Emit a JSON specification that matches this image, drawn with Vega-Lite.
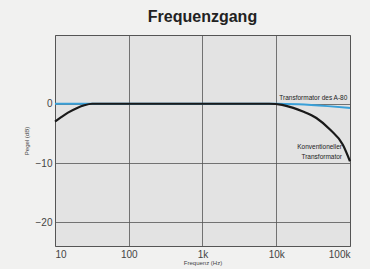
{
  "$schema": "https://vega.github.io/schema/vega-lite/v6.json",
  "autosize": "none",
  "width": 295,
  "height": 211,
  "padding": {"left": 55, "top": 35, "right": 20, "bottom": 23},
  "background": "#f1f1f0",
  "title": {"text": "Frequenzgang", "font": "Liberation Sans", "fontSize": 16, "fontWeight": "bold", "color": "#222", "anchor": "middle", "offset": 10},
  "config": {
    "view": {"fill": "#e3e3e3", "stroke": "#555", "strokeWidth": 1},
    "axis": {"labelFont": "Liberation Sans", "labelColor": "#444", "titleFont": "Liberation Sans", "titleColor": "#444", "gridColor": "#555", "gridOpacity": 1, "gridWidth": 0.8, "domain": false, "ticks": false}
  },
  "datasets": {
    "a80": [
      {"f": 10, "db": 0},
      {"f": 100, "db": 0},
      {"f": 1000, "db": 0},
      {"f": 10000, "db": 0},
      {"f": 20000, "db": -0.1},
      {"f": 50000, "db": -0.4},
      {"f": 100000, "db": -0.7}
    ],
    "konv": [
      {"f": 10, "db": -3.0},
      {"f": 12, "db": -2.3},
      {"f": 15, "db": -1.5},
      {"f": 20, "db": -0.7},
      {"f": 25, "db": -0.25},
      {"f": 32, "db": 0},
      {"f": 100, "db": 0},
      {"f": 1000, "db": 0},
      {"f": 8000, "db": 0},
      {"f": 12000, "db": -0.2},
      {"f": 17000, "db": -0.7},
      {"f": 23000, "db": -1.3},
      {"f": 35000, "db": -2.4},
      {"f": 54000, "db": -4.4},
      {"f": 80000, "db": -6.9},
      {"f": 100000, "db": -9.7}
    ],
    "labels": [
      {"f": 92000, "db": 1.0, "t": "Transformator des A-80"},
      {"f": 78000, "db": -7.3, "t": "Konventioneller"},
      {"f": 78000, "db": -9.0, "t": "Transformator"}
    ]
  },
  "layer": [
    {
      "data": {"name": "a80"},
      "mark": {"type": "line", "interpolate": "monotone", "strokeWidth": 2, "color": "#3aa0d8"},
      "encoding": {
        "x": {"field": "f", "type": "quantitative", "scale": {"type": "log", "domain": [10, 100000], "nice": false},
          "axis": {"values": [10, 100, 1000, 10000, 100000], "labelExpr": "datum.value == 10 ? '10' : datum.value == 100 ? '100' : datum.value == 1000 ? '1k' : datum.value == 10000 ? '10k' : '100k'", "labelFontSize": 10, "labelPadding": 3, "title": "Frequenz (Hz)", "titleFontSize": 6, "titleFontWeight": "normal", "titlePadding": 0}},
        "y": {"field": "db", "type": "quantitative", "scale": {"domain": [-24, 11.6], "nice": false, "zero": false},
          "axis": {"values": [0, -10, -20], "labelExpr": "datum.value == 0 ? '0' : '\u2212' + abs(datum.value)", "labelFontSize": 10, "labelPadding": 3, "title": "Pegel (dB)", "titleFontSize": 6, "titleFontWeight": "normal", "titlePadding": 6}},
        "order": {"field": "f"}
      }
    },
    {
      "data": {"name": "konv"},
      "mark": {"type": "line", "interpolate": "monotone", "strokeWidth": 2.2, "color": "#1a1a1a"},
      "encoding": {
        "x": {"field": "f", "type": "quantitative"},
        "y": {"field": "db", "type": "quantitative"},
        "order": {"field": "f"}
      }
    },
    {
      "data": {"name": "labels"},
      "mark": {"type": "text", "align": "right", "baseline": "middle", "font": "Liberation Sans", "fontSize": 6.5, "color": "#222"},
      "encoding": {
        "x": {"field": "f", "type": "quantitative"},
        "y": {"field": "db", "type": "quantitative"},
        "text": {"field": "t"}
      }
    }
  ]
}
